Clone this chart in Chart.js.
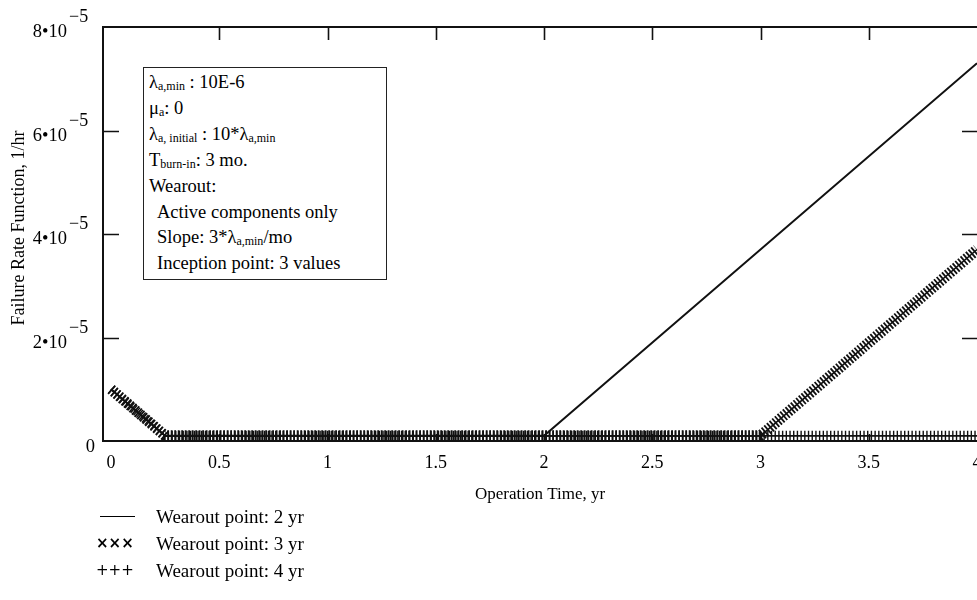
<!DOCTYPE html>
<html>
<head>
<meta charset="utf-8">
<title>Failure Rate Function</title>
<script src="https://cdn.jsdelivr.net/npm/chart.js@4.4.1/dist/chart.umd.min.js"></script>
<style>
    body { margin: 0; background: #fff; }
    #wrap { position: relative; width: 977px; height: 600px; font-family: "Liberation Serif", "Times New Roman", serif; color: #000; overflow: hidden; }
    #chart { position: absolute; left: 0; top: 0; }
    .note { position: absolute; left: 143px; top: 67px; width: 244px; height: 213px; box-sizing: border-box;
            border: 1.5px solid #222; background: #fff; padding: 2px 0 0 5px; font-size: 18.5px; line-height: 25.9px; white-space: nowrap; }
    .note sub { font-size: 12px; vertical-align: -2px; line-height: 0; }
    .note .ind { padding-left: 8px; }
    .legend { position: absolute; left: 96px; top: 503px; font-size: 19px; line-height: 26px; white-space: nowrap; }
    .legend .sym { display: inline-block; width: 60px; font-family: "DejaVu Sans", sans-serif; font-size: 15px; vertical-align: 2px; }
    .legend .sym.bold { font-weight: bold; }
    .legend .dash { display: inline-block; width: 35px; margin-left: 4px; border-top: 1.5px solid #000; vertical-align: 4px; }
</style>
</head>
<body>
<div id="wrap">
    <canvas id="chart" width="977" height="600"></canvas>
    <div class="note">
        <div>λ<sub>a,min</sub> : 10E-6</div>
        <div>μ<sub>a</sub>: 0</div>
        <div>λ<sub>a, initial</sub> : 10*λ<sub>a,min</sub></div>
        <div>T<sub>burn-in</sub>: 3 mo.</div>
        <div>Wearout:</div>
        <div class="ind">Active components only</div>
        <div class="ind">Slope: 3*λ<sub>a,min</sub>/mo</div>
        <div class="ind">Inception point: 3 values</div>
    </div>
    <div class="legend">
        <div><span class="sym"><span class="dash"></span></span>Wearout point: 2 yr</div>
        <div><span class="sym bold">×××</span>Wearout point: 3 yr</div>
        <div><span class="sym">+++</span>Wearout point: 4 yr</div>
    </div>
</div>
<script>
// ── Data ──────────────────────────────────────
const seriesNames = ['Wearout point: 2 yr', 'Wearout point: 3 yr', 'Wearout point: 4 yr'];
const wear2X = [0, 0.25, 2, 4];
const wear2Y = [1.0e-5, 1.0e-6, 1.0e-6, 7.3e-5];
const wear3X = [0, 0.25, 3, 4];
const wear3Y = [1.0e-5, 1.0e-6, 1.0e-6, 3.7e-5];
const wear4X = [0, 0.25, 4];
const wear4Y = [1.0e-5, 1.0e-6, 1.0e-6];

const xTicks = [0, 0.5, 1, 1.5, 2, 2.5, 3, 3.5, 4];
const xTickLabels = ['0', '0.5', '1', '1.5', '2', '2.5', '3', '3.5', '4'];
const yTicks = [0, 2e-5, 4e-5, 6e-5, 8e-5];
const yTickMantissa = ['0', '2', '4', '6', '8'];
const yTickExp = '\u22125';

const xTitle = 'Operation Time, yr';
const yTitle = 'Failure Rate Function, 1/hr';

const pts = (xs, ys) => xs.map((x, i) => ({ x: x, y: ys[i] }));

// ── Frame, inward ticks, y labels, titles ─────
const framePlugin = {
    id: 'frame',
    afterDraw(chart) {
        const { ctx, chartArea: a, scales: { x, y } } = chart;
        ctx.save();
        ctx.strokeStyle = '#111';
        ctx.lineWidth = 2;
        ctx.beginPath();
        ctx.moveTo(a.right + 3, a.top);
        ctx.lineTo(a.left, a.top);
        ctx.lineTo(a.left, a.bottom);
        ctx.lineTo(a.right + 3, a.bottom);
        ctx.stroke();

        ctx.lineWidth = 1.6;
        ctx.beginPath();
        xTicks.forEach(v => {
            if (v <= 0 || v >= 4) return;
            const px = Math.round(x.getPixelForValue(v)) + 0.5;
            ctx.moveTo(px, a.top); ctx.lineTo(px, a.top + 13);
            ctx.moveTo(px, a.bottom); ctx.lineTo(px, a.bottom - 7);
        });
        yTicks.forEach(v => {
            if (v <= 0 || v >= 8e-5) return;
            const py = Math.round(y.getPixelForValue(v)) + 0.5;
            ctx.moveTo(a.left, py); ctx.lineTo(a.left + 16, py);
            ctx.moveTo(a.right - 15, py); ctx.lineTo(a.right + 2, py);
        });
        ctx.stroke();

        // y tick labels with exponent
        ctx.fillStyle = '#000';
        ctx.textBaseline = 'alphabetic';
        yTicks.forEach((v, i) => {
            const py = y.getPixelForValue(v);
            ctx.font = '18.5px "Liberation Serif"';
            if (v === 0) {
                ctx.textAlign = 'right';
                ctx.fillText(yTickMantissa[i], 95, py + 11);
                return;
            }
            ctx.textAlign = 'right';
            ctx.fillText(yTickMantissa[i] + '\u202210', 67, py + 10);
            ctx.textAlign = 'left';
            ctx.font = '18px "Liberation Serif"';
            ctx.fillText(yTickExp, 69, py - 5);
        });

        // axis titles
        ctx.textAlign = 'center';
        ctx.textBaseline = 'middle';
        ctx.font = '17px "Liberation Serif"';
        ctx.fillText(xTitle, (a.left + a.right) / 2, 495);
        ctx.font = '18px "Liberation Serif"';
        ctx.translate(19, (a.top + a.bottom) / 2 - 6);
        ctx.rotate(-Math.PI / 2);
        ctx.fillText(yTitle, 0, 0);
        ctx.restore();
    }
};

const lineDs = (label, data, width, dash) => ({
    label: label,
    data: data,
    borderColor: '#111',
    borderWidth: width,
    borderDash: dash || [],
    borderCapStyle: 'butt',
    pointRadius: 0,
    tension: 0,
    fill: false
});

new Chart(document.getElementById('chart'), {
    type: 'line',
    data: {
        datasets: [
            lineDs(seriesNames[0], pts(wear2X, wear2Y), 2),
            lineDs(seriesNames[1], pts(wear3X, wear3Y), 1.6),
            lineDs(seriesNames[1], pts(wear3X, wear3Y), 11, [1.8, 1.7]),
            lineDs(seriesNames[2], pts(wear4X, wear4Y), 1.6),
            lineDs(seriesNames[2], pts(wear4X, wear4Y), 10, [1.4, 2.3])
        ]
    },
    options: {
        responsive: false,
        animation: false,
        layout: { padding: { top: 27, right: 0, left: 0, bottom: 0 } },
        plugins: { legend: { display: false }, tooltip: { enabled: false } },
        scales: {
            x: {
                type: 'linear',
                min: -0.037,
                max: 4,
                grid: { display: false, drawTicks: false },
                border: { display: false },
                afterBuildTicks: s => { s.ticks = xTicks.map(v => ({ value: v })); },
                afterFit: s => { s.height = 159; s.paddingLeft = 0; s.paddingRight = 0; },
                ticks: {
                    color: '#000',
                    padding: 11,
                    maxRotation: 0,
                    autoSkip: false,
                    font: { family: 'Liberation Serif', size: 18 },
                    callback: (v) => xTickLabels[xTicks.indexOf(v)]
                }
            },
            y: {
                type: 'linear',
                min: 0,
                max: 8e-5,
                grid: { display: false, drawTicks: false },
                border: { display: false },
                afterBuildTicks: s => { s.ticks = yTicks.map(v => ({ value: v })); },
                afterFit: s => { s.width = 103; },
                ticks: { display: false }
            }
        }
    },
    plugins: [framePlugin]
});
</script>
</body>
</html>
